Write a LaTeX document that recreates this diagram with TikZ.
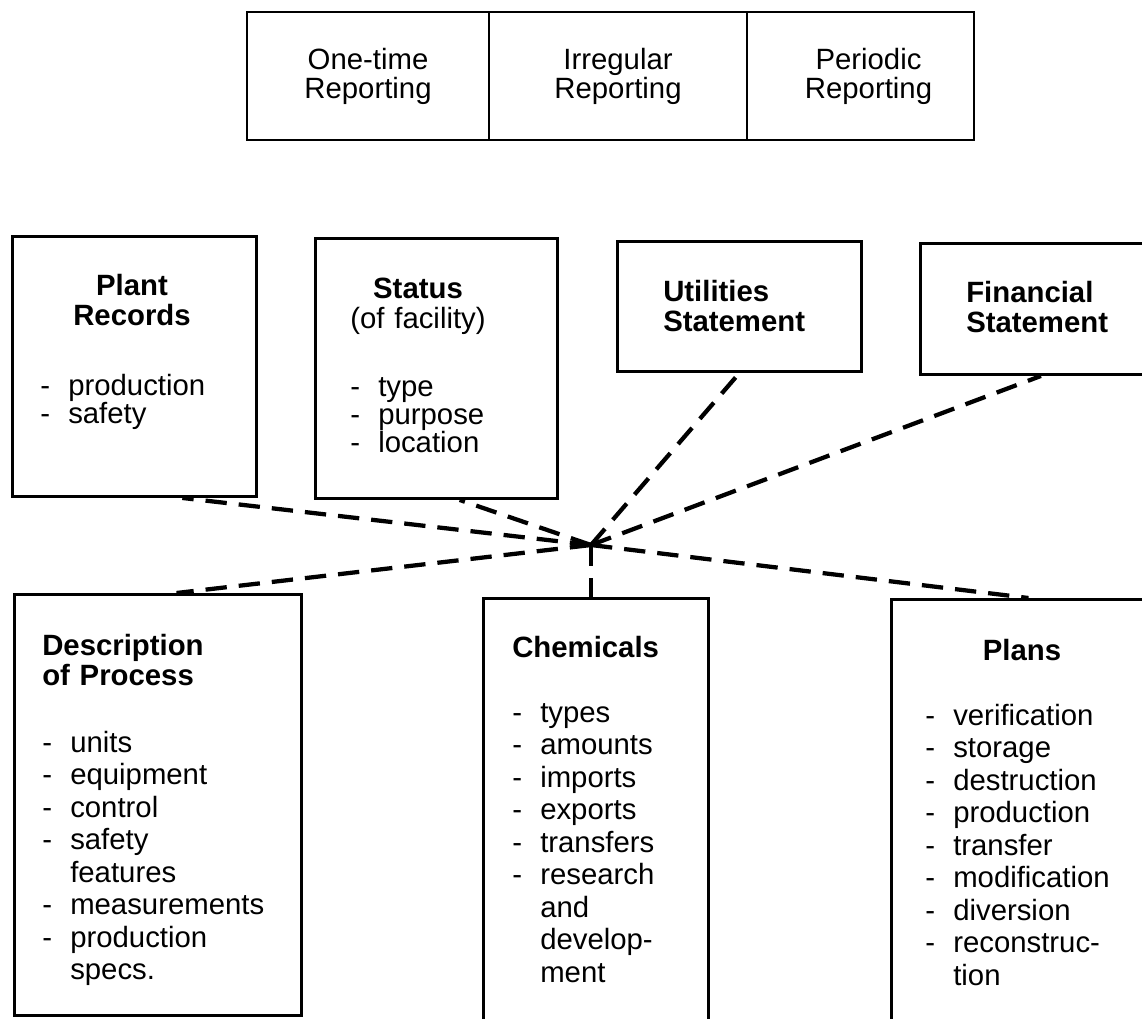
\documentclass[tikz,border=0pt]{standalone}
\usepackage{fontspec}
\setmainfont{Liberation Sans}
\usetikzlibrary{positioning}

\def\pxu{0.75pt}
\newcommand{\itm}[1]{\makebox[21pt][l]{-}#1}
\newcommand{\cnt}[1]{\hspace*{21pt}#1}

\begin{document}
\begin{tikzpicture}[x=0.75pt, y=-0.75pt,
        repbox/.style={rectangle, draw, line width=2.2pt, outer sep=0pt, minimum height=128*\pxu, align=center, font=\fontsize{22}{21.75}\selectfont},
        recbox/.style={rectangle, draw, line width=2.2pt, anchor=north west, inner sep=0pt},
        boxhead/.style={inner sep=0pt, text width=200pt, anchor=base, align=center, font=\bfseries\fontsize{22}{22.5}\selectfont},
        lhead/.style={boxhead, anchor=base west, align=left},
        items/.style={inner sep=0pt, text width=200pt, anchor=base west, align=left, font=\fontsize{22}{#1}\selectfont},
        items/.default=21,
        link/.style={line width=3.2pt, dash pattern=on 16pt off 9pt}]
        \useasboundingbox (0,0) rectangle (1142,1018);
        \clip (0,0) rectangle (1142,1018);

        % Reporting
        \node[repbox, anchor=north west, minimum width=242*\pxu] (onetime) at (247,12) {One-time\\Reporting};
        \node[repbox, right=0pt of onetime, minimum width=258*\pxu] (irregular) {Irregular\\Reporting};
        \node[repbox, right=0pt of irregular, minimum width=227*\pxu] (periodic) {\hspace*{12pt}Periodic\\\hspace*{12pt}Reporting};

        % Plant records
        \node[recbox, minimum width=244*\pxu, minimum height=260*\pxu] (plant) at (11,235) {};
        \node[boxhead] (plant-head) at (132,295) {Plant\\Records};
        \node[items] (plant-list) at (40,395) {\itm{production}\\\itm{safety}};

        % Status
        \node[recbox, minimum width=242*\pxu, minimum height=260*\pxu] (status) at (314,237) {};
        \node[boxhead] (status-head) at (418,298) {Status\\\mdseries(of facility)};
        \node[items] (status-list) at (350,396) {\itm{type}\\\itm{purpose}\\\itm{location}};

        % Statements
        \node[recbox, minimum width=244*\pxu, minimum height=130*\pxu] (util) at (616,240) {};
        \node[lhead] (util-head) at (663,301) {Utilities\\Statement};
        \node[recbox, minimum width=241*\pxu, minimum height=131*\pxu] (fin) at (919,242) {};
        \node[lhead] (fin-head) at (966,302) {Financial\\Statement};

        % Description of process
        \node[recbox, minimum width=287*\pxu, minimum height=421*\pxu] (desc) at (13,593) {};
        \node[lhead] (desc-head) at (42,655) {Description\\of Process};
        \node[items=24.4] (desc-list) at (42,752) {\itm{units}\\\itm{equipment}\\\itm{control}\\\itm{safety}\\\cnt{features}\\\itm{measurements}\\\itm{production}\\\cnt{specs.}};

        % Chemicals
        \node[recbox, minimum width=225*\pxu, minimum height=433*\pxu] (chem) at (482,597) {};
        \node[lhead] (chem-head) at (512,657) {Chemicals};
        \node[items=24.4] (chem-list) at (512,722) {\itm{types}\\\itm{amounts}\\\itm{imports}\\\itm{exports}\\\itm{transfers}\\\itm{research}\\\cnt{and}\\\cnt{develop-}\\\cnt{ment}};

        % Plans
        \node[recbox, minimum width=274*\pxu, minimum height=432*\pxu] (plans) at (890,598) {};
        \node[boxhead] (plans-head) at (1022,660) {Plans};
        \node[items=24.4] (plans-list) at (925,725) {\itm{verification}\\\itm{storage}\\\itm{destruction}\\\itm{production}\\\itm{transfer}\\\itm{modification}\\\itm{diversion}\\\itm{reconstruc-}\\\cnt{tion}};

        % Connections
        \coordinate (hub) at (591,545);
        \draw[link] (hub) -- (plant.-70);
        \draw[link] (hub) -- (status.-80);
        \draw[link] (hub) -- (util.south);
        \draw[link] (hub) -- (fin.south);
        \draw[link] (hub) -- (desc.85);
        \draw[link] (hub) -- (hub |- chem.north);
        \draw[link] (hub) -- (plans.north);
\end{tikzpicture}
\end{document}
